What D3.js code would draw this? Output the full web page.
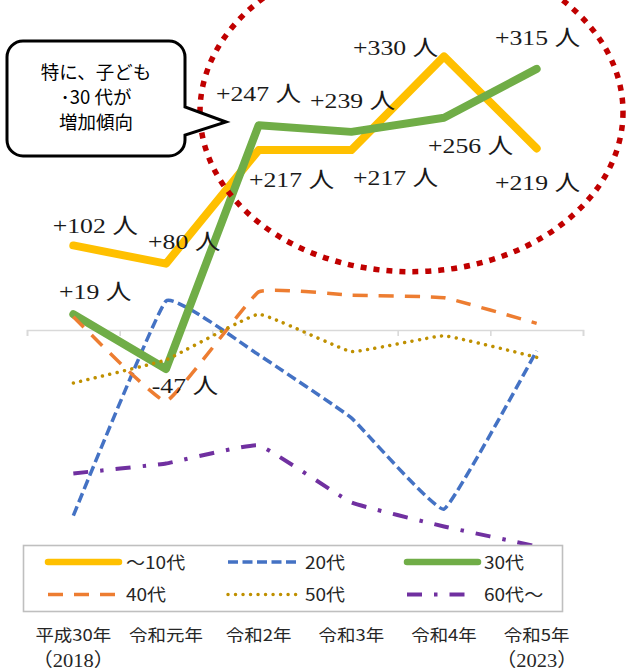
<!DOCTYPE html>
<html lang="ja">
<head>
<meta charset="utf-8">
<script src="https://cdn.jsdelivr.net/npm/d3@7"></script>
<style>
  html, body { margin: 0; padding: 0; background: #fff; }
  svg { display: block; }
</style>
</head>
<body>
<div id="chart"></div>
<script>
// Year-over-year population change by age group (persons)
const categories = ["平成30年", "令和元年", "令和2年", "令和3年", "令和4年", "令和5年"];
const categorySub = ["（2018）", "", "", "", "", "（2023）"];

const teens     = [102, 80, 217, 217, 330, 219];     // ～10代
const twenties  = [-224, 35, -30, -106, -216, -25];  // 20代
const thirties  = [19, -47, 247, 239, 256, 315];     // 30代
const forties   = [16, -86, 46, 42, 39, 8];          // 40代
const fifties   = [-64, -36, 19, -26, -7, -33];      // 50代
const sixties   = [-173, -161, -139, -208, -237, -261]; // 60代～

const seriesNames = ["～10代", "20代", "30代", "40代", "50代", "60代～"];

const calloutLines = ["特に、子ども", "･30 代が", "増加傾向"];

// ---- layout ----
const W = 632, H = 671;
const svg = d3.select("#chart").append("svg").attr("width", W).attr("height", H);

const x = d3.scaleBand().domain(categories).range([27, 583]);
const xc = c => x(c) + x.bandwidth() / 2;
const y = d3.scaleLinear().domain([-300, 400]).range([330 + 300 * 0.829, 330 - 400 * 0.829]);

const styles = [
  { data: teens,    color: "#FFC000", width: 8,   dash: null,            smooth: false },
  { data: twenties, color: "#4472C4", width: 3.5, dash: "10 4.5",        smooth: true },
  { data: thirties, color: "#70AD47", width: 8,   dash: null,            smooth: false },
  { data: forties,  color: "#ED7D31", width: 3.5, dash: "15 11",         smooth: true },
  { data: fifties,  color: "#BF9000", width: 3.5, dash: "0.01 7.5",      smooth: true, cap: "round" },
  { data: sixties,  color: "#7030A0", width: 4,   dash: "15 12 3.5 12",  smooth: true }
];

// ---- axis (horizontal at zero, ticks between categories) ----
const tickScale = d3.scaleLinear().domain([0, categories.length]).range(x.range());
const axis = svg.append("g")
  .attr("transform", `translate(0,${y(0)})`)
  .call(d3.axisBottom(tickScale).tickValues(d3.range(categories.length + 1))
    .tickSize(6).tickSizeOuter(6).tickFormat(""));
axis.selectAll("path, line").attr("stroke", "#d9d9d9").attr("stroke-width", 1.6);

// ---- series lines ----
const linesG = svg.append("g");
styles.forEach(s => {
  const gen = d3.line()
    .x((d, i) => xc(categories[i]))
    .y(d => y(d))
    .curve(s.smooth ? d3.curveCardinal.tension(0.72) : d3.curveLinear);
  linesG.append("path")
    .attr("d", gen(s.data))
    .attr("fill", "none")
    .attr("stroke", s.color)
    .attr("stroke-width", s.width)
    .attr("stroke-dasharray", s.dash)
    .attr("stroke-linecap", s.cap || (s.dash ? "butt" : "round"))
    .attr("stroke-linejoin", "round");
});

// ---- highlight ellipse ----
svg.append("ellipse")
  .attr("cx", 411.5).attr("cy", 112).attr("rx", 211.5).attr("ry", 159.7)
  .attr("fill", "none").attr("stroke", "#C00000")
  .attr("stroke-width", 5.5).attr("stroke-dasharray", "6 7");

// ---- callout ----
(function () {
  const l = 7, t = 41, r = 185, b = 156, rad = 16;
  const tipX = 226, tipY = 122, p1 = 107, p2 = 135;
  const p = d3.path();
  p.moveTo(l + rad, t);
  p.lineTo(r - rad, t);
  p.arcTo(r, t, r, t + rad, rad);
  p.lineTo(r, p1);
  p.lineTo(tipX, tipY);
  p.lineTo(r, p2);
  p.lineTo(r, b - rad);
  p.arcTo(r, b, r - rad, b, rad);
  p.lineTo(l + rad, b);
  p.arcTo(l, b, l, b - rad, rad);
  p.lineTo(l, t + rad);
  p.arcTo(l, t, l + rad, t, rad);
  p.closePath();
  svg.append("path").attr("d", p.toString())
    .attr("fill", "#fff").attr("stroke", "#000").attr("stroke-width", 3)
    .attr("stroke-linejoin", "miter");
  svg.append("g").selectAll("text").data(calloutLines).join("text")
    .attr("x", 96).attr("y", (d, i) => 79 + i * 25)
    .attr("text-anchor", "middle")
    .attr("font-family", "'Noto Sans CJK JP', sans-serif")
    .attr("font-size", 18.5).attr("fill", "#000")
    .text(d => d);
})();

// ---- data labels (offsets from each labelled point) ----
const labelSpecs = [
  { s: 0, i: 0, dx: -20.6, dy: -12.4 },
  { s: 0, i: 1, dx: -18,   dy: -14.7 },
  { s: 0, i: 2, dx: -9.7,  dy: 37 },
  { s: 0, i: 3, dx: 1.7,   dy: 35 },
  { s: 0, i: 4, dx: -91,   dy: -1.4 },
  { s: 0, i: 5, dx: -41.7, dy: 41.6 },
  { s: 2, i: 0, dx: -14.3, dy: -15.2 },
  { s: 2, i: 1, dx: -14.3, dy: 23.7 },
  { s: 2, i: 2, dx: -42.7, dy: -24.5 },
  { s: 2, i: 3, dx: -41.3, dy: -23.9 },
  { s: 2, i: 4, dx: -16,   dy: 35.2 },
  { s: 2, i: 5, dx: -41.7, dy: -23.9 }
];
const fmt = v => (v > 0 ? "+" : "-") + Math.abs(v) + " 人";
svg.append("g").selectAll("text").data(labelSpecs).join("text")
  .attr("transform", d => {
    const v = styles[d.s].data[d.i];
    return `translate(${xc(categories[d.i]) + d.dx},${y(v) + d.dy}) scale(1.17,1)`;
  })
  .attr("font-family", "'Liberation Serif', 'Noto Sans CJK JP', serif")
  .attr("font-size", 22).attr("fill", "#1a1a1a")
  .text(d => fmt(styles[d.s].data[d.i]));

// ---- legend ----
const legend = svg.append("g");
legend.append("rect")
  .attr("x", 23.5).attr("y", 545.5).attr("width", 539).attr("height", 66)
  .attr("fill", "#fff").attr("stroke", "#bfbfbf").attr("stroke-width", 1.6);
const legendCols = [48, 228, 407];
const legendRows = [562, 594.5];
styles.forEach((s, k) => {
  const col = legendCols[k % 3], row = legendRows[Math.floor(k / 3)];
  const len = k === 5 ? 60 : 71;
  legend.append("line")
    .attr("x1", col).attr("x2", col + len).attr("y1", row).attr("y2", row)
    .attr("stroke", s.color).attr("stroke-width", s.width === 8 ? 6.5 : s.width)
    .attr("stroke-dasharray", s.dash)
    .attr("stroke-linecap", s.cap || (s.dash ? "butt" : "round"));
  const tx = k % 3 === 0 ? 126 : (k % 3 === 1 ? 305 : 484);
  legend.append("text")
    .attr("transform", `translate(${tx},${row + 6.5}) scale(1.12,1)`)
    .attr("font-family", "'Noto Sans CJK JP', sans-serif")
    .attr("font-size", 17).attr("fill", "#262626")
    .text(seriesNames[k]);
});

// ---- category labels ----
const catG = svg.append("g");
categories.forEach((c, i) => {
  catG.append("text")
    .attr("transform", `translate(${xc(c)},641) scale(1.12,1)`)
    .attr("text-anchor", "middle")
    .attr("font-family", "'Noto Sans CJK JP', sans-serif")
    .attr("font-size", 16.5).attr("fill", "#262626")
    .text(c);
  if (categorySub[i]) {
    catG.append("text")
      .attr("transform", `translate(${xc(c)},667) scale(1.08,1)`)
      .attr("text-anchor", "middle")
      .attr("font-family", "'Liberation Serif', 'Noto Sans CJK JP', serif")
      .attr("font-size", 19).attr("fill", "#262626")
      .text(categorySub[i]);
  }
});
</script>
</body>
</html>
